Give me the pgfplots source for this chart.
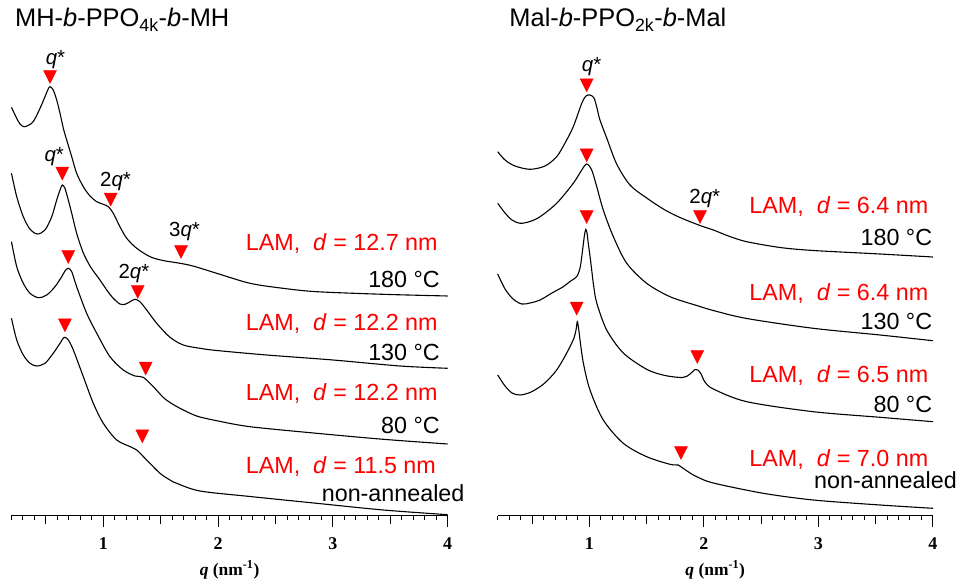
\documentclass[border=0pt]{standalone}
\usepackage{fontspec}
\setmainfont{Liberation Sans}
\newfontfamily\serifbf{Liberation Serif}
\usepackage{pgfplots}
\pgfplotsset{compat=1.18}

\pgfplotsset{
  saxs/.style={
    y=1bp,
    xmin=0.2, xmax=4, ymin=72.5, ymax=540,
    clip=false,
    axis x line=bottom, axis y line=none,
    x axis line style={-, line width=1.1bp},
    ytick=\empty,
    xtick={1,2,3,4},
    minor xtick={0.2,0.3,0.4,0.6,0.7,0.8,0.9,1.1,1.2,1.3,1.4,1.6,1.7,1.8,1.9,2.1,2.2,2.3,2.4,2.6,2.7,2.8,2.9,3.1,3.2,3.3,3.4,3.6,3.7,3.8,3.9},
    extra x ticks={0.5,1.5,2.5,3.5},
    extra x tick labels={},
    extra x tick style={major tick length=8bp},
    tick align=outside,
    major tick length=11bp, minor tick length=4.5bp,
    tick style={black, line width=0.9bp},
    /pgf/number format/assume math mode=true,
    xticklabel style={font=\serifbf\bfseries\fontsize{18}{18}\selectfont, yshift=-8bp},
    xlabel={{\itshape q} (nm\textsuperscript{-1})},
    xlabel style={font=\serifbf\bfseries\fontsize{17.5}{18}\selectfont,
                  at={(axis cs:2.1,13)}, anchor=base},
    curve/.style={black, line width=1.1bp, smooth, mark=none},
    peak/.style={only marks, red, mark=triangle*, mark size=7.5bp,
                 mark options={rotate=180, yscale=1.15, fill=red, draw=red}},
  },
}
\tikzset{
  lam/.style={anchor=base west, inner sep=0pt, text=red, font=\fontsize{23.4}{28}\selectfont},
  temp/.style={anchor=base east, inner sep=0pt, font=\fontsize{23.4}{28}\selectfont},
  idx/.style={anchor=base west, inner sep=0pt, font=\fontsize{20.5}{24}\selectfont},
  ttl/.style={anchor=base west, inner sep=0pt, font=\fontsize{25.5}{30}\selectfont},
}

\begin{document}
\begin{tikzpicture}
\path[use as bounding box] (0,0) rectangle (962bp,588bp);

% ---------------- MH-b-PPO4k-b-MH ----------------
\begin{axis}[saxs, x=114.8bp, at={(11.46bp,72.5bp)}, anchor=south west]
% 180 C
\addplot[curve] coordinates {(0.2,480.7)(0.240,471)(0.274,464)(0.309,461.3)(0.344,462.5)(0.390,466.3)(0.449,479.7)(0.492,491.3)(0.518,498.5)(0.536,501.3)(0.564,498)(0.594,488)(0.623,474.7)(0.652,459.7)(0.681,448)(0.725,431.3)(0.768,414.7)(0.826,401.3)(0.884,392)(0.943,386.3)(1.000,383.7)(1.044,381.3)(1.087,374.7)(1.145,361.3)(1.204,349.7)(1.291,339.7)(1.407,331.3)(1.520,327.5)(1.668,324.7)(1.781,322)(1.988,314.7)(2.278,304.7)(2.565,299.7)(2.859,296.3)(3.436,293.7)(4.000,292)};
% 130 C
\addplot[curve] coordinates {(0.2,414.7)(0.246,391.3)(0.303,371.3)(0.362,358.7)(0.425,354)(0.492,358)(0.551,371.3)(0.594,388)(0.623,398)(0.643,403)(0.666,399.7)(0.695,388)(0.725,374.7)(0.768,354.7)(0.826,335)(0.884,322)(0.913,317)(0.971,308)(1.030,298)(1.087,289.7)(1.145,284)(1.189,283.7)(1.233,286.3)(1.276,288.7)(1.319,286.3)(1.378,278)(1.465,264.7)(1.581,250.7)(1.697,243)(1.842,239.7)(1.988,237.5)(2.423,233)(3.001,228)(3.585,222)(4.000,219.7)};
% 80 C
\addplot[curve] coordinates {(0.2,346.3)(0.246,321.3)(0.303,304.7)(0.362,294.7)(0.434,290.3)(0.507,293)(0.579,301.3)(0.638,311.3)(0.666,317)(0.695,319.7)(0.725,316.3)(0.768,301.3)(0.855,274.7)(0.943,254.7)(1.058,231.3)(1.174,218)(1.276,212)(1.348,210.7)(1.436,201.3)(1.523,190.5)(1.581,185.5)(1.639,181.5)(1.697,178)(1.770,174)(1.842,171)(2.000,167)(2.278,161.3)(2.859,154.7)(3.439,148.7)(4.000,144)};
% non-annealed
\addplot[curve] coordinates {(0.2,269.7)(0.246,248)(0.303,233)(0.362,224.7)(0.420,222)(0.492,224.7)(0.564,234.7)(0.623,244.7)(0.660,250.7)(0.695,248)(0.739,238)(0.826,211.3)(0.913,184.7)(1.000,164.7)(1.117,148)(1.247,140.7)(1.291,138)(1.378,128)(1.494,114.7)(1.581,108)(1.639,104.7)(1.842,97)(2.278,91.5)(2.859,84.7)(3.439,78)(4.000,73.3)};
% peak positions
\addplot[peak] coordinates {(0.536,513.2)(1.064,390.6)(1.677,338.2)(0.643,416.6)(1.300,298.2)(0.695,333.2)(1.369,221.6)(0.666,264.9)(1.340,153.9)};

\node[ttl] at (axis cs:0.231,561.3) {MH-\textit{b}-PPO\textsubscript{4k}-\textit{b}-MH};
\node[idx] at (axis cs:0.498,523) {\textit{q}*};
\node[idx] at (axis cs:0.487,426.3) {\textit{q}*};
\node[idx] at (axis cs:0.971,401.3) {2\textit{q}*};
\node[idx] at (axis cs:1.572,351.3) {3\textit{q}*};
\node[idx] at (axis cs:1.131,309.7) {2\textit{q}*};

\node[lam] at (axis cs:2.240,338) {LAM,\ \ \textit{d} = 12.7 nm};
\node[temp] at (axis cs:3.933,300.7) {180 °C};
\node[lam] at (axis cs:2.240,258) {LAM,\ \ \textit{d} = 12.2 nm};
\node[temp] at (axis cs:3.933,227.5) {130 °C};
\node[lam] at (axis cs:2.240,188) {LAM,\ \ \textit{d} = 12.2 nm};
\node[temp] at (axis cs:3.933,154.7) {80 °C};
\node[lam] at (axis cs:2.240,114.7) {LAM,\ \ \textit{d} = 11.5 nm};
\node[temp, anchor=base west] at (axis cs:2.902,87) {non-annealed};
\end{axis}

% ---------------- Mal-b-PPO2k-b-Mal ----------------
\begin{axis}[saxs, x=114.5bp, at={(497.7bp,72.5bp)}, anchor=south west]
% 180 C
\addplot[curve] coordinates {(0.2,436.3)(0.264,428)(0.351,422)(0.482,418.7)(0.613,422)(0.715,431.3)(0.788,445)(0.860,461.3)(0.934,484.7)(0.971,492)(1.006,493)(1.041,490)(1.067,480)(1.093,468)(1.152,450)(1.239,424)(1.355,403)(1.501,390)(1.661,378)(1.792,370.5)(1.967,362.5)(2.083,358)(2.227,351.5)(2.375,346.3)(2.666,340.5)(2.956,337.5)(3.539,334)(4.0,331)};
% 130 C
\addplot[curve] coordinates {(0.2,384.7)(0.264,375)(0.325,368)(0.395,364.7)(0.482,366.5)(0.570,371.3)(0.715,384.7)(0.860,404.7)(0.934,418)(0.977,424)(1.021,418)(1.065,401.3)(1.122,378)(1.210,351.3)(1.327,324.7)(1.501,304.7)(1.705,291.3)(1.938,282.5)(2.083,277.5)(2.375,269.5)(2.956,259.7)(3.539,253)(4.0,247.3)};
% 80 C
\addplot[curve] coordinates {(0.2,314)(0.264,299)(0.334,289)(0.410,284)(0.482,285)(0.570,288)(0.674,295)(0.773,301.3)(0.831,306.5)(0.890,311.3)(0.919,320)(0.934,331.3)(0.956,351.3)(0.969,358.5)(0.980,355)(0.991,344.7)(1.006,332)(1.021,318)(1.037,303)(1.065,285)(1.152,258)(1.297,235)(1.501,218.7)(1.661,212.5)(1.818,210.5)(1.880,214)(1.923,218.5)(1.949,218)(1.976,214)(2.010,206)(2.083,199)(2.375,186.3)(2.956,176.3)(3.539,170.7)(4.0,166.3)};
% non-annealed
\addplot[curve] coordinates {(0.2,213)(0.264,202)(0.325,195)(0.395,193)(0.482,195.5)(0.570,201.3)(0.639,208)(0.715,218)(0.779,230)(0.831,241.3)(0.866,250)(0.884,258)(0.895,266.3)(0.906,260)(0.919,248)(0.948,225)(1.006,198)(1.122,168)(1.297,144.7)(1.501,131.3)(1.705,123.7)(1.777,123)(1.807,120.7)(1.880,115)(1.938,111.3)(2.083,105)(2.520,94.7)(2.956,88)(3.539,83)(4.0,79.7)};
% peak positions
\addplot[peak] coordinates {(0.977,504.9)(1.967,373.2)(0.977,434.9)(0.977,373.2)(1.943,233.2)(0.890,281.6)(1.801,137.2)};

\node[ttl] at (axis cs:0.301,561.3) {Mal-\textit{b}-PPO\textsubscript{2k}-\textit{b}-Mal};
\node[idx] at (axis cs:0.934,516.3) {\textit{q}*};
\node[idx] at (axis cs:1.873,384.7) {2\textit{q}*};

\node[lam] at (axis cs:2.397,375) {LAM,\ \ \textit{d} = 6.4 nm};
\node[temp] at (axis cs:3.996,342.5) {180 °C};
\node[lam] at (axis cs:2.397,287.7) {LAM,\ \ \textit{d} = 6.4 nm};
\node[temp] at (axis cs:3.996,258.3) {130 °C};
\node[lam] at (axis cs:2.397,205.5) {LAM,\ \ \textit{d} = 6.5 nm};
\node[temp] at (axis cs:3.996,176) {80 °C};
\node[lam] at (axis cs:2.397,121.7) {LAM,\ \ \textit{d} = 7.0 nm};
\node[temp, anchor=base west] at (axis cs:2.962,100) {non-annealed};
\end{axis}
\end{tikzpicture}
\end{document}
